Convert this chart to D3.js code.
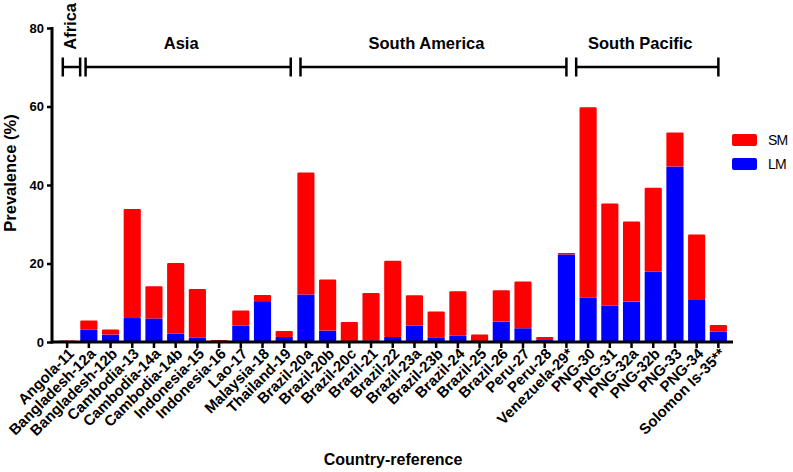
<!DOCTYPE html>
<html><head><meta charset="utf-8">
<script src="https://cdn.jsdelivr.net/npm/d3@7"></script>
<style>
body{margin:0;background:#fff;}
svg{font-family:"Liberation Sans",Arial,sans-serif;}
</style></head>
<body><svg id="c" width="793" height="472"></svg>
<script>
const categories = ["Angola-11","Bangladesh-12a","Bangladesh-12b","Cambodia-13","Cambodia-14a","Cambodia-14b","Indonesia-15","Indonesia-16","Lao-17","Malaysia-18","Thailand-19","Brazil-20a","Brazil-20b","Brazil-20c","Brazil-21","Brazil-22","Brazil-23a","Brazil-23b","Brazil-24","Brazil-25","Brazil-26","Peru-27","Peru-28","Venezuela-29*","PNG-30","PNG-31","PNG-32a","PNG-32b","PNG-33","PNG-34","Solomon Is-35**"];
const lmValues = [0,3.2,1.9,6.1,6.0,2.1,1.1,0,4.2,10.4,1.3,12.1,2.9,0,0.4,1.3,4.2,1.2,1.6,0,5.2,3.5,0.5,22.3,11.3,9.3,10.3,17.9,44.7,10.9,2.6];
const smValues = [0.4,2.3,1.3,27.8,8.2,18.0,12.4,0.5,3.8,1.6,1.5,31.1,13.0,5.1,12.1,19.4,7.7,6.6,11.3,1.9,8.0,11.9,0.8,0.4,48.5,26.0,20.4,21.4,8.7,16.5,1.7];
const yTicks = [0,20,40,60,80];
const seriesNames = ["SM","LM"];
const seriesColors = ["#ff0000","#0000ff"];
const regions = ["Africa","Asia","South America","South Pacific"];
const regionStart = [-0.2,0.85,10.75,23.45];
const regionEnd = [0.6,10.3,23.0,30.0];

const svg = d3.select("#c");
const x = d3.scaleBand().domain(categories).range([54,731.5]).padding(0.21);
const y = d3.scaleLinear().domain([0,80]).range([342,28]);
const step = x.step();
const idx = d3.scaleLinear().domain([0,1]).range([x(categories[0])+x.bandwidth()/2, x(categories[0])+x.bandwidth()/2+step]);

const data = categories.map((c,i)=>({c, lm:lmValues[i], sm:smValues[i]}));

// bars: SM stacked on LM
const g = svg.append("g");
g.selectAll("rect.lm").data(data).join("rect")
  .attr("x",d=>x(d.c)).attr("width",x.bandwidth())
  .attr("y",d=>y(d.lm)).attr("height",d=>y(0)-y(d.lm))
  .attr("fill",seriesColors[1]);
g.selectAll("rect.sm").data(data).join("rect")
  .attr("x",d=>x(d.c)).attr("width",x.bandwidth())
  .attr("y",d=>y(d.lm+d.sm)).attr("height",d=>y(d.lm)-y(d.lm+d.sm))
  .attr("rx",1.2)
  .attr("fill",seriesColors[0]);

// y axis
const ya = svg.append("g").attr("transform","translate(52,0)")
  .call(d3.axisLeft(y).tickValues(yTicks).tickSize(5).tickPadding(3));
ya.select(".domain").attr("stroke-width",3).attr("d",`M0,${y(0)+1.5}V${y(80)-1}`);
ya.selectAll(".tick line").attr("stroke-width",2.5);
ya.selectAll(".tick text").attr("font-size",13).attr("font-weight","bold").attr("fill","#000");

// x axis
const xa = svg.append("g").attr("transform",`translate(0,${y(0)})`)
  .call(d3.axisBottom(x).tickSize(6).tickFormat(""));
xa.select(".domain").attr("stroke-width",3).attr("d","M52,0H733");
xa.selectAll(".tick line").attr("stroke-width",2.5);
xa.selectAll(".tick").append("text")
  .attr("transform","translate(4,9) rotate(-45)")
  .attr("text-anchor","end").attr("dy","0.35em")
  .attr("font-size",15).attr("font-weight","bold").attr("fill","#000")
  .text(d=>d);

// axis titles
svg.append("text").attr("transform","translate(16,173) rotate(-90)")
  .attr("text-anchor","middle").attr("font-size",16.5).attr("font-weight","bold")
  .text("Prevalence (%)");
svg.append("text").attr("x",393).attr("y",465)
  .attr("text-anchor","middle").attr("font-size",16).attr("font-weight","bold")
  .text("Country-reference");

// region brackets
const by = 67;
regions.forEach((r,i)=>{
  const x0 = idx(regionStart[i]), x1 = idx(regionEnd[i]);
  const bg = svg.append("g").attr("stroke","#000").attr("stroke-width",2.5);
  bg.append("line").attr("x1",x0).attr("x2",x1).attr("y1",by).attr("y2",by);
  bg.append("line").attr("x1",x0).attr("x2",x0).attr("y1",by-9.5).attr("y2",by+9.5);
  bg.append("line").attr("x1",x1).attr("x2",x1).attr("y1",by-9.5).attr("y2",by+9.5);
  if(i===0){
    svg.append("text").attr("transform",`translate(${(x0+x1)/2+5},3) rotate(-90)`)
      .attr("text-anchor","end").attr("font-size",16.5).attr("font-weight","bold").text(r);
  } else {
    svg.append("text").attr("x",(x0+x1)/2-7).attr("y",49)
      .attr("text-anchor","middle").attr("font-size",16.5).attr("font-weight","bold").text(r);
  }
});

// legend
seriesNames.forEach((s,i)=>{
  svg.append("rect").attr("x",732).attr("y",134+i*24).attr("width",25).attr("height",12)
    .attr("rx",2).attr("fill",seriesColors[i]);
  svg.append("text").attr("x",768).attr("y",140+i*24).attr("dy","0.35em")
    .attr("font-size",14).attr("letter-spacing",-0.8).attr("fill","#000").text(s);
});
</script></body></html>
